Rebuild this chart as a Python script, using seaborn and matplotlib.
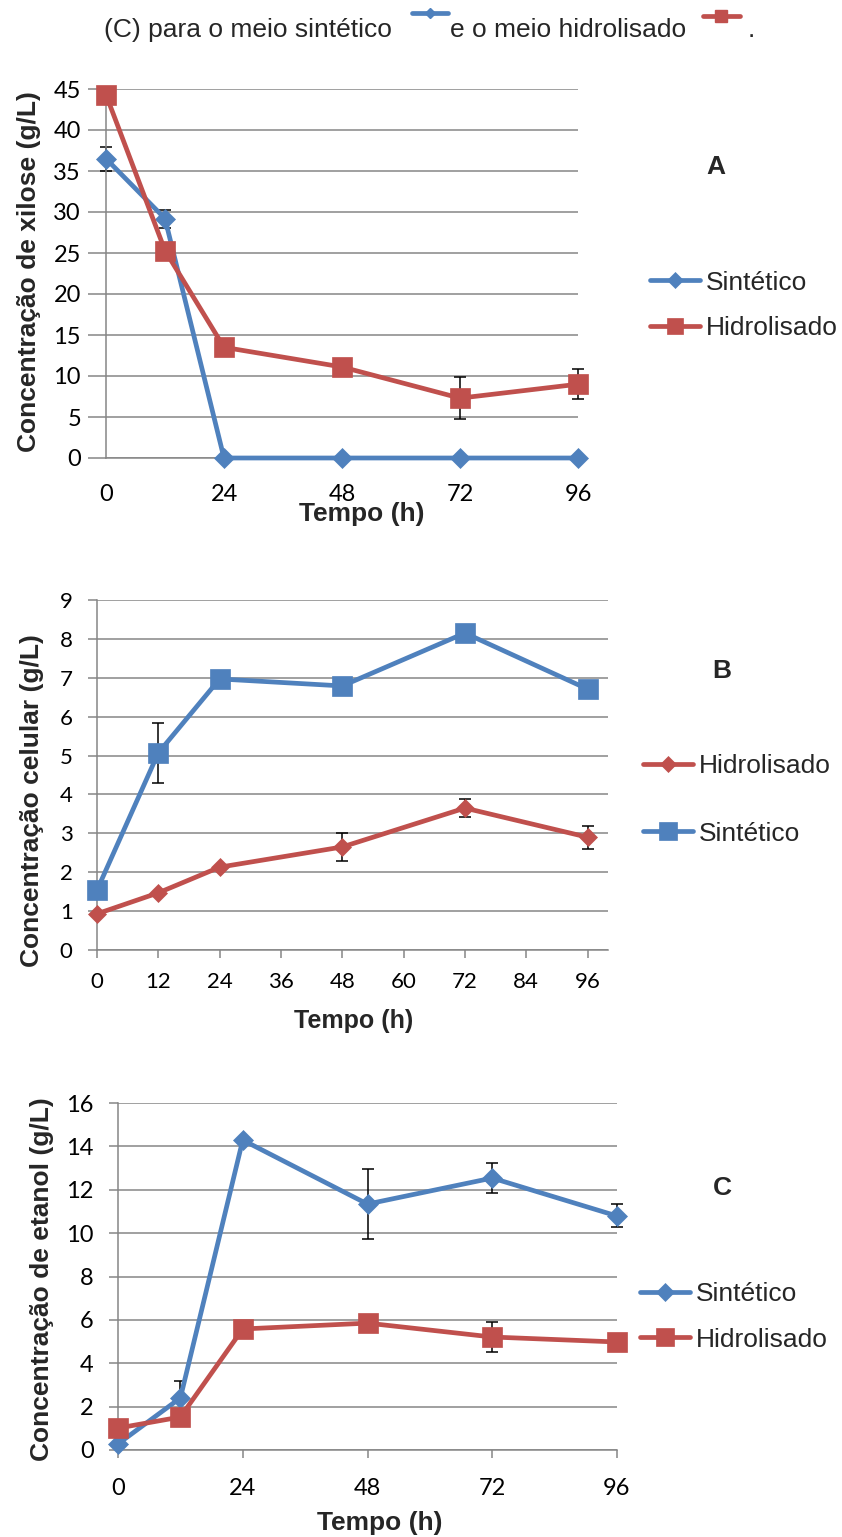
import numpy as np
import pandas as pd
import matplotlib
matplotlib.use("Agg")
import matplotlib.pyplot as plt
import seaborn as sns
from matplotlib.lines import Line2D

sns.set_theme(style="white")
plt.rcParams['font.family'] = ['Liberation Sans', 'DejaVu Sans']

BLUE = "#4F81BD"
RED = "#C0504D"
GRID = "#868686"

# ---------------- data ----------------
time_h = [0, 12, 24, 48, 72, 96]

# A - xylose
xil_sint = [36.5, 29.2, 0.0, 0.0, 0.0, 0.0]
xil_sint_err = [1.45, 1.1, 0, 0, 0, 0]
xil_hidr = [44.3, 25.3, 13.5, 11.1, 7.3, 9.0]
xil_hidr_err = [0, 0, 0, 0, 2.55, 1.8]

# B - cells
cel_hidr = [0.93, 1.47, 2.13, 2.65, 3.65, 2.90]
cel_hidr_err = [0, 0, 0, 0.35, 0.23, 0.30]
cel_sint = [1.54, 5.07, 6.97, 6.79, 8.15, 6.71]
cel_sint_err = [0, 0.77, 0, 0, 0, 0]

# C - ethanol
eta_sint = [0.28, 2.40, 14.29, 11.34, 12.54, 10.79]
eta_sint_err = [0, 0.78, 0, 1.6, 0.7, 0.53]
eta_hidr = [1.01, 1.52, 5.58, 5.85, 5.21, 4.98]
eta_hidr_err = [0, 0, 0, 0, 0.7, 0]

xticks_A = [0, 24, 48, 72, 96]
yticks_A = [0, 5, 10, 15, 20, 25, 30, 35, 40, 45]
xticks_B = [0, 12, 24, 36, 48, 60, 72, 84, 96]
yticks_B = [0, 1, 2, 3, 4, 5, 6, 7, 8, 9]
xticks_C = [0, 24, 48, 72, 96]
yticks_C = [0, 2, 4, 6, 8, 10, 12, 14, 16]

W, H = 842, 1537
fig = plt.figure(figsize=(W / 100, H / 100), dpi=100)
fig.patch.set_facecolor("white")


def fx(px):
    return px / W


def fy(py):
    return 1 - py / H


def make_axes(left, right, top, bottom):
    return fig.add_axes([fx(left), fy(bottom), (right - left) / W, (bottom - top) / H])


def draw_series(ax, t, y, err, color, marker, ms, label):
    df = pd.DataFrame({"t": t, "y": y})
    sns.lineplot(data=df, x="t", y="y", ax=ax, color=color, marker=marker,
                 markersize=ms, linewidth=3.4, markeredgecolor=color,
                 markeredgewidth=0.5, label=label, clip_on=False, zorder=3)
    idx = [i for i, e in enumerate(err) if e > 0]
    if idx:
        ax.errorbar([t[i] for i in idx], [y[i] for i in idx],
                    yerr=[err[i] for i in idx], fmt='none', ecolor='black',
                    elinewidth=1.1, capsize=4.5, capthick=1.1, zorder=2,
                    clip_on=False)
    return [l for l in ax.lines if l.get_label() == label][0]


def style_axes(ax, xlim, ylim, xticks, yticks, ylen, ypad, xlen, xpad, fs):
    ax.set_xlim(*xlim)
    ax.set_ylim(*ylim)
    ax.set_xticks(xticks)
    ax.set_yticks(yticks)
    ax.set_facecolor("white")
    for s in ['top', 'right']:
        ax.spines[s].set_visible(False)
    for s in ['left', 'bottom']:
        ax.spines[s].set_color(GRID)
        ax.spines[s].set_linewidth(1.1)
    ax.yaxis.grid(True, color=GRID, linewidth=1.1)
    ax.xaxis.grid(False)
    ax.set_axisbelow(True)
    ax.tick_params(axis='y', which='major', length=ylen, width=1.1, color=GRID,
                   pad=ypad, labelsize=fs, left=True, labelcolor='black',
                   labelfontfamily='Lato')
    ax.tick_params(axis='x', which='major', length=xlen, width=1.1, color=GRID,
                   pad=xpad, labelsize=fs, bottom=True, labelcolor='black',
                   labelfontfamily='Lato')


def set_labels(ax, xlabel, xpos, xfs, ylabel, ypos, yfs):
    ax.set_xlabel(xlabel, fontsize=xfs, fontweight='bold', va='center')
    ax.xaxis.set_label_coords(fx(xpos[0]), fy(xpos[1]), transform=fig.transFigure)
    ax.set_ylabel(ylabel, fontsize=yfs, fontweight='bold', va='center', ha='center')
    ax.yaxis.set_label_coords(fx(ypos[0]), fy(ypos[1]), transform=fig.transFigure)


def add_legend(ax, handles, labels, x, y, spacing):
    leg = ax.legend(handles=handles, labels=labels, loc='center left',
                    bbox_to_anchor=(fx(x), fy(y)), bbox_transform=fig.transFigure,
                    frameon=False, fontsize=19, handlelength=1.9,
                    handletextpad=0.2, labelspacing=spacing, borderpad=0,
                    borderaxespad=0, markerscale=0.85)
    return leg


# ---------------- Panel A ----------------
axA = make_axes(106, 578, 89, 458)
lA1 = draw_series(axA, time_h, xil_sint, xil_sint_err, BLUE, 'D', 10, 'Sintético')
lA2 = draw_series(axA, time_h, xil_hidr, xil_hidr_err, RED, 's', 14, 'Hidrolisado')
style_axes(axA, (0, 96), (0, 45), xticks_A, yticks_A, 13, 5, 0, 18.5, 17)
axA.set_xticks([0], minor=True)
axA.tick_params(axis='x', which='minor', length=6, width=1.1, color=GRID, bottom=True)
set_labels(axA, 'Tempo (h)', (362, 514), 19, 'Concentração de xilose (g/L)', (29.5, 272), 19)
add_legend(axA, [lA1, lA2], ['Sintético', 'Hidrolisado'], 650, 305.5, 0.83)
fig.text(fx(716), fy(167), 'A', fontsize=19, fontweight='bold', ha='center', va='center')

# ---------------- Panel B ----------------
axB = make_axes(97, 608, 600, 950)
lB1 = draw_series(axB, time_h, cel_hidr, cel_hidr_err, RED, 'D', 9, 'Hidrolisado')
lB2 = draw_series(axB, time_h, cel_sint, cel_sint_err, BLUE, 's', 15, 'Sintético')
style_axes(axB, (0, 100), (0, 9), xticks_B, yticks_B, 6.5, 11, 6, 9.5, 16)
set_labels(axB, 'Tempo (h)', (354, 1021), 18, 'Concentração celular (g/L)', (32, 801), 19)
add_legend(axB, [lB1, lB2], ['Hidrolisado', 'Sintético'], 643, 800, 1.63)
fig.text(fx(722), fy(671), 'B', fontsize=19, fontweight='bold', ha='center', va='center')

# ---------------- Panel C ----------------
axC = make_axes(118, 617, 1103, 1450)
lC1 = draw_series(axC, time_h, eta_sint, eta_sint_err, BLUE, 'D', 10.5, 'Sintético')
lC2 = draw_series(axC, time_h, eta_hidr, eta_hidr_err, RED, 's', 14.5, 'Hidrolisado')
style_axes(axC, (0, 96), (0, 16), xticks_C, yticks_C, 6.5, 11, 6, 14.5, 17)
set_labels(axC, 'Tempo (h)', (380, 1523), 19, 'Concentração de etanol (g/L)', (42, 1279), 19)
add_legend(axC, [lC1, lC2], ['Sintético', 'Hidrolisado'], 640, 1317, 0.8)
fig.text(fx(722), fy(1188), 'C', fontsize=19, fontweight='bold', ha='center', va='center')

# ---------------- header ----------------
fig.text(fx(104), fy(30), '(C) para o meio sintético', fontsize=19, ha='left', va='center')
fig.text(fx(450), fy(30), 'e o meio hidrolisado', fontsize=19, ha='left', va='center')
fig.text(fx(748), fy(30), '.', fontsize=19, ha='left', va='center')
fig.add_artist(Line2D([fx(412), fx(448)], [fy(13), fy(13)], color=BLUE, lw=3.4,
                      transform=fig.transFigure))
fig.add_artist(Line2D([fx(430)], [fy(13)], color=BLUE, marker='D', ms=5, mec=BLUE,
                      transform=fig.transFigure))
fig.add_artist(Line2D([fx(703), fx(740)], [fy(16), fy(16)], color=RED, lw=3.4,
                      transform=fig.transFigure))
fig.add_artist(Line2D([fx(721)], [fy(16)], color=RED, marker='s', ms=8, mec=RED,
                      transform=fig.transFigure))

fig.savefig("out.png", dpi=100, facecolor="white")
